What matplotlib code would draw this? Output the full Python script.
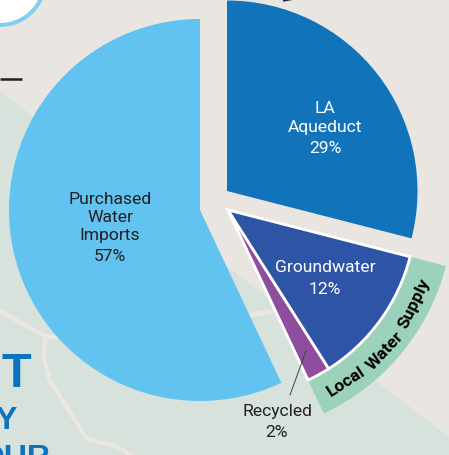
import matplotlib
matplotlib.use("Agg")
import matplotlib.pyplot as plt
from matplotlib.patches import Wedge, Polygon, Circle

W, H = 449, 456
categories = ["Purchased Water Imports", "LA Aqueduct", "Groundwater", "Recycled"]
shares = [57, 29, 12, 2]
band_label = ["Local", "Water", "Supply"]

BG = "#E9E6E1"; GREEN = "#D7E2DC"; ROAD = "#EBE8E3"
C_PURCH = "#62C3F0"; C_LA = "#1173BA"; C_GW = "#2E54A5"; C_REC = "#8F4D9F"; C_BAND = "#9CD1BB"
DARK = "#231F20"; FONT = "Roboto"

fig = plt.figure(figsize=(W/100, H/100), dpi=100, facecolor=BG)
ax = fig.add_axes([0, 0, 1, 1])
ax.set_xlim(0, W); ax.set_ylim(H, 0); ax.axis("off")
# Inverted y axis: Wedge angles run clockwise from +x on screen.
def deg(v): return v * 3.6
def top(a): return a - 90  # clockwise degrees from 12 o'clock -> wedge angle

# backdrop
ax.add_patch(Polygon([(0, 92), (W, 438), (W, H), (0, H)], fc=GREEN, ec="none", zorder=1))
ax.plot([0, 45, 56], [312, 337, 339], color=ROAD, lw=3, zorder=2, solid_capstyle="round")
ax.plot([45, 44, 50, 87, 115, 135], [337, 360, 382, 440, 447, 458], color=ROAD, lw=3, zorder=2)
ax.plot([250, 280], [316, 311], color=ROAD, lw=3, zorder=2)
ax.add_patch(Circle((0, -19), 47, fc="#84CDF2", ec="none", zorder=2))
ax.add_patch(Circle((0, -19), 43, fc="white", ec="none", zorder=3))
ax.plot([0, 22], [80, 80], color=DARK, lw=1.8, zorder=2, solid_capstyle="butt")
ax.plot([284, 298], [1.5, -1], color="#1B2A50", lw=1.5, zorder=2)

# slices clockwise from 12 o'clock
la_end = deg(shares[1]); gw_end = la_end + deg(shares[2]); rec_end = gw_end + deg(shares[3])
ax.add_patch(Wedge((200, 211), 191, top(rec_end), top(rec_end + deg(shares[0])), fc=C_PURCH, ec="none", zorder=4))
ax.add_patch(Wedge((227, 192), 190.5, top(0), top(la_end), fc=C_LA, ec="none", zorder=4))
ax.add_patch(Wedge((228, 211), 225, top(la_end), top(rec_end), width=36, fc=C_BAND, ec="none", zorder=4))
ax.add_patch(Wedge((228, 211), 188, top(la_end), top(gw_end), fc=C_GW, ec="white", lw=2, zorder=6))
ax.add_patch(Wedge((228, 211), 188, top(gw_end), top(rec_end), fc=C_REC, ec="white", lw=2, zorder=5))

# labels
def label(x, y, s, c="white", size=12.6):
    ax.text(x, y, s, color=c, fontsize=size, family=FONT, ha="center", va="center", zorder=8)
label(325, 109, "LA"); label(325, 128, "Aqueduct"); label(325, 149, f"{shares[1]}%")
label(110, 200, "Purchased", DARK); label(110, 218, "Water", DARK); label(110, 236, "Imports", DARK); label(110, 257, f"{shares[0]}%", DARK)
label(325, 268, categories[2]); label(325, 290, f"{shares[2]}%")
label(277, 412, categories[3], DARK); label(277, 433, f"{shares[3]}%", DARK)
ax.plot([306, 290], [352, 396], color="#444444", lw=0.7, zorder=8)

# band caption, word by word around the arc
for word, x, y, rot in zip(band_label, [346, 385, 414], [382, 351, 304], [33, 47, 64]):
    ax.text(x, y, word, color="black", fontsize=12.5, fontweight="bold", family=FONT,
            rotation=rot, rotation_mode="anchor", ha="center", va="center", zorder=8)

# cropped headline letters
BLUE = "#0A75BE"
ax.text(31, 387, "T", color=BLUE, fontsize=35, fontweight="bold", family="Liberation Sans", ha="right", va="baseline", zorder=3)
ax.text(17, 429, "Y", color=BLUE, fontsize=23, fontweight="bold", family="Liberation Sans", ha="right", va="baseline", zorder=3)
ax.text(51, 467, "OUR", color=BLUE, fontsize=23, fontweight="bold", family="Liberation Sans", ha="right", va="baseline", zorder=3)

fig.savefig("out.png", dpi=100, facecolor=BG)
